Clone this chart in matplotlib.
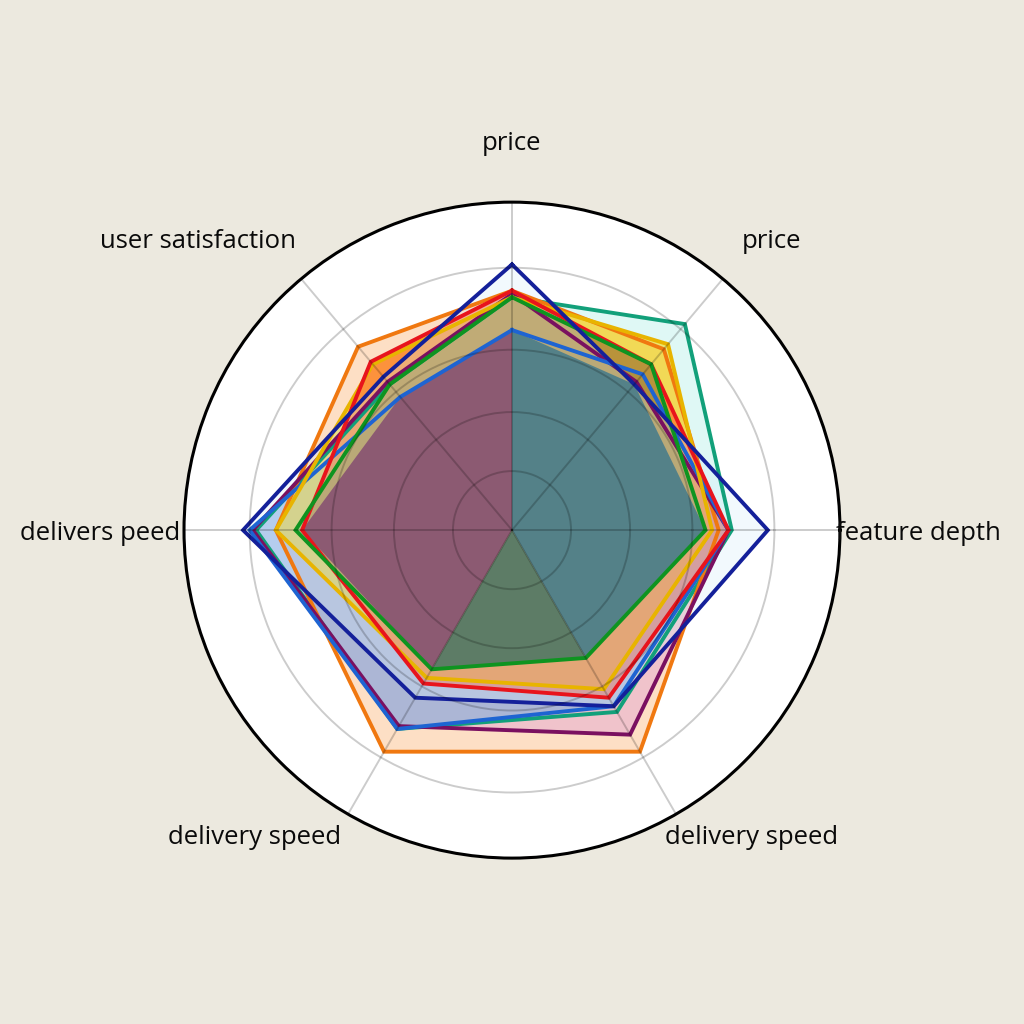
import numpy as np
import matplotlib
matplotlib.use("Agg")
from matplotlib import pyplot as plt
from matplotlib.patches import Polygon

# axis names and their (uneven) directions in degrees
labels = ["price", "price", "feature depth", "delivery speed",
          "delivery speed", "delivers peed", "user satisfaction"]
axis_deg = [90, 50, 0, 300, 240, 180, 130]

# series values, 0-100 scale (outer ring = 100)
navy = [81, 58, 78, 62, 59, 82, 61]
blue = [61, 62, 66, 62, 70, 80, 53]
teal = [71, 82, 67, 64, 70, 78, 58]
green = [71, 66, 59, 45, 49, 66, 58]
yellow = [71, 74, 61, 56, 52, 72, 66]
orange = [73, 72, 63, 78, 78, 72, 73]
red = [73, 66, 66, 59, 54, 64, 67]
purple = [72, 59, 66, 72, 69, 79, 59]

series = [
    (teal, "#12a07a", "#b8f0ea", 0.45),
    (orange, "#f07810", "#fcb070", 0.40),
    (purple, "#7a1060", "#d890d8", 0.35),
    (blue, "#1e64d2", "#5aa8ec", 0.40),
    (yellow, "#e8b400", "#f8d800", 0.55),
    (red, "#e8141c", "#ff4a20", 0.50),
    (green, "#0e9420", "#2a9a40", 0.30),
    (navy, "#14209a", "#d4ecfa", 0.30),
]

bg = "#ece9df"
theta = np.deg2rad(axis_deg)
theta_c = np.append(theta, theta[0])

fig = plt.figure(figsize=(10.24, 10.24), dpi=100, facecolor=bg)
ax = fig.add_axes([0.1797, 0.162, 0.6406, 0.6406], projection="polar")
ax.set_facecolor("white")

for vals, edge, fill, a in series:
    v = np.append(vals, vals[0])
    ax.fill(theta_c, v, color=fill, alpha=a, zorder=2, lw=0)

# the dense overlap in the middle reads as three coloured sectors
core = np.minimum.reduce([s[0] for s in series])
core_c = np.append(core, core[0])
sectors = [(90, 240, "#8a5672"), (300, 450, "#4f7f8a"), (240, 300, "#587a66")]
for t1, t2, col in sectors:
    p = ax.fill(theta_c, core_c, color=col, alpha=0.95, zorder=3, lw=0)[0]
    arc = np.deg2rad(np.linspace(t1, t2, 60))
    pts = np.column_stack([np.r_[0, arc, 0], np.r_[0, np.full(60, 100), 0]])
    clip = Polygon(pts, closed=True, transform=ax.transData)
    p.set_clip_path(clip)

for vals, edge, fill, a in series:
    v = np.append(vals, vals[0])
    ax.plot(theta_c, v, color=edge, lw=2.8, zorder=4, solid_joinstyle="miter")

ax.set_xlim(0, 2 * np.pi)
ax.set_ylim(0, 100)
ax.set_xticks(theta)
ax.set_xticklabels([])
ax.set_rgrids([18, 36, 55, 80], labels=[])
ax.grid(True, color="black", alpha=0.2, lw=1.4)
ax.xaxis.set_zorder(5)
ax.yaxis.set_zorder(5)
ax.spines["polar"].set_color("black")
ax.spines["polar"].set_linewidth(2.2)
ax.spines["polar"].set_zorder(6)

# label centres in figure pixels
label_x = [512, 772, 918, 752, 255, 100, 198]
label_y = [143, 242, 533, 838, 838, 533, 242]
for name, x, y in zip(labels, label_x, label_y):
    fig.text(x / 1024, 1 - y / 1024, name, ha="center", va="center",
             fontsize=18.5, family="Open Sans", color="#0a0a0a")

fig.savefig("out.png", dpi=100, facecolor=bg)
